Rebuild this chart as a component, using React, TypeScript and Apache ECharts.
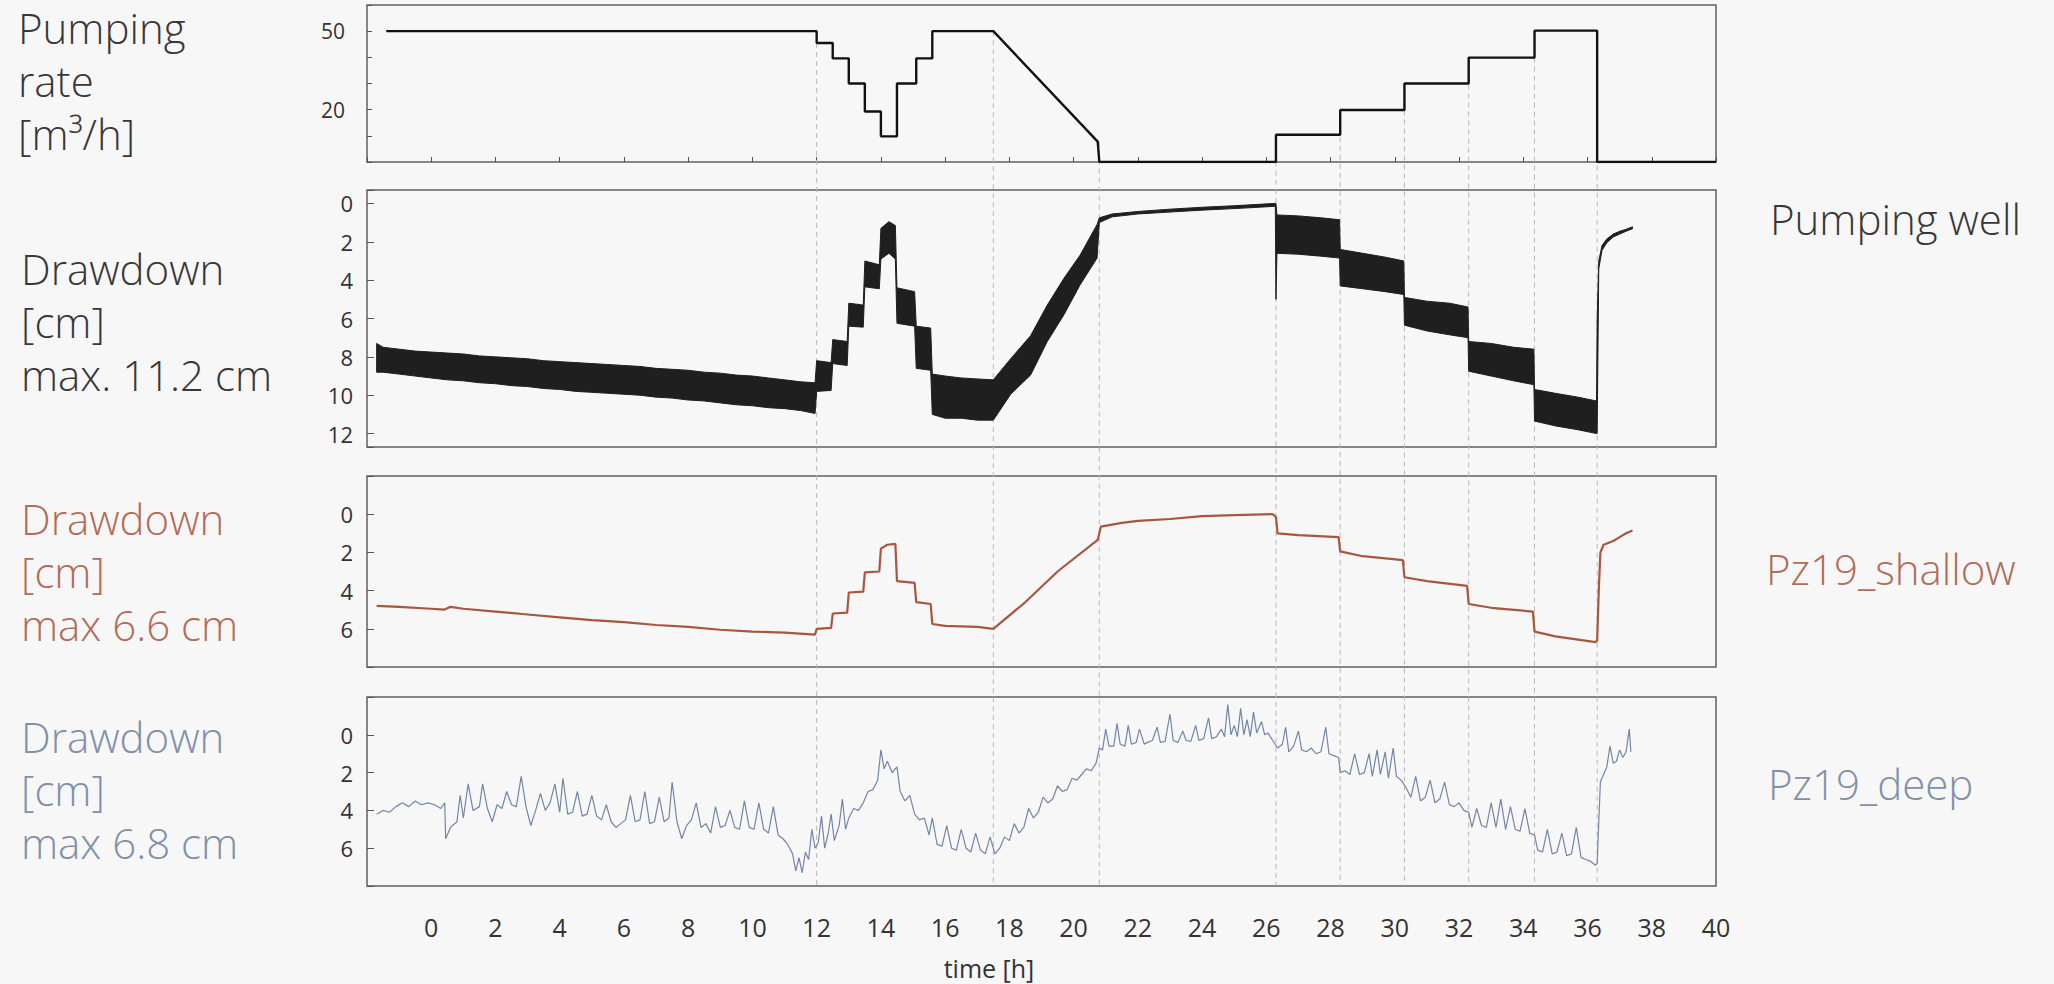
import React, { useEffect, useRef } from "react";
import * as echarts from "echarts";

// ---------- data ----------
const X_MIN = -2;
const X_MAX = 40;

// Pumping rate [m3/h]
const rateTime = [-1.4, 12.0, 12.0, 12.5, 12.5, 13.0, 13.0, 13.5, 13.5, 14.0, 14.0, 14.5, 14.5, 15.1, 15.1, 15.6, 15.6, 17.5, 20.75, 20.8, 26.3, 26.3, 28.3, 28.3, 30.3, 30.3, 32.3, 32.3, 34.35, 34.35, 36.3, 36.3, 40];
const rateValue = [50, 50, 45.5, 45.5, 39.6, 39.6, 30, 30, 19.3, 19.3, 9.8, 9.8, 30, 30, 39.6, 39.6, 50, 50, 7.8, 0, 0, 10.4, 10.4, 19.9, 19.9, 30, 30, 39.9, 39.9, 50.2, 50.2, 0, 0];

// Pumping well drawdown [cm] - envelope of the noisy record (upper / lower edge)
const wellTime = [-1.7, -1.5, -1.0, -0.5, 0.0, 0.5, 1.0, 1.5, 2.0, 2.5, 3.0, 3.5, 4.0, 4.5, 5.0, 5.5, 6.0, 6.5, 7.0, 7.5, 8.0, 8.5, 9.0, 9.5, 10.0, 10.5, 11.0, 11.5, 11.95, 12.0, 12.45, 12.5, 12.95, 13.0, 13.45, 13.5, 13.95, 14.0, 14.25, 14.45, 14.5, 15.05, 15.1, 15.55, 15.6, 16.0, 16.5, 17.0, 17.5, 18.04, 18.66, 19.18, 19.7, 20.2, 20.73, 20.8, 21.2, 22.0, 23.0, 24.0, 25.0, 26.28, 26.3, 26.33, 27.0, 27.7, 28.28, 28.3, 29.0, 29.7, 30.28, 30.3, 31.0, 31.7, 32.28, 32.3, 33.0, 33.7, 34.33, 34.35, 35.0, 35.7, 36.28, 36.3, 36.35, 36.45, 36.6, 36.8, 37.0, 37.2, 37.4];
const wellTop = [7.3, 7.5, 7.6, 7.7, 7.75, 7.8, 7.85, 7.95, 8.0, 8.05, 8.1, 8.2, 8.25, 8.3, 8.35, 8.4, 8.45, 8.5, 8.6, 8.65, 8.7, 8.8, 8.85, 8.95, 9.0, 9.1, 9.2, 9.3, 9.35, 8.2, 8.3, 7.1, 7.2, 5.2, 5.3, 3.0, 3.2, 1.3, 0.95, 1.15, 4.4, 4.6, 6.4, 6.5, 8.9, 9.0, 9.1, 9.15, 9.2, 8.1, 6.9, 5.3, 3.9, 2.7, 1.1, 0.75, 0.55, 0.42, 0.3, 0.2, 0.12, 0.0, 0.0, 0.6, 0.65, 0.75, 0.85, 2.4, 2.6, 2.8, 3.0, 4.9, 5.1, 5.2, 5.4, 7.2, 7.3, 7.5, 7.6, 9.7, 9.9, 10.1, 10.3, 6.0, 3.0, 2.2, 1.85, 1.6, 1.45, 1.35, 1.22];
const wellBottom = [8.8, 8.8, 8.9, 9.0, 9.1, 9.2, 9.25, 9.35, 9.4, 9.5, 9.55, 9.65, 9.7, 9.8, 9.85, 9.9, 9.95, 10.0, 10.1, 10.15, 10.25, 10.3, 10.4, 10.5, 10.55, 10.65, 10.7, 10.8, 10.95, 9.8, 9.75, 8.35, 8.45, 6.4, 6.45, 4.35, 4.45, 2.9, 2.6, 2.9, 6.25, 6.4, 8.6, 8.7, 11.0, 11.2, 11.2, 11.3, 11.3, 9.95, 8.95, 7.2, 5.8, 4.25, 2.85, 1.0, 0.7, 0.55, 0.45, 0.35, 0.27, 0.15, 5.0, 2.6, 2.65, 2.75, 2.85, 4.3, 4.45, 4.6, 4.75, 6.35, 6.65, 6.85, 7.0, 8.75, 9.0, 9.25, 9.45, 11.35, 11.6, 11.8, 12.0, 12.0, 3.4, 2.45, 2.05, 1.75, 1.6, 1.45, 1.32];

// Pz19_shallow drawdown [cm]
const shallowTime = [-1.7, -1.0, 0.0, 0.4, 0.6, 1.0, 2.0, 3.0, 4.0, 5.0, 6.0, 7.0, 8.0, 9.0, 10.0, 11.0, 11.95, 12.0, 12.45, 12.5, 12.95, 13.0, 13.45, 13.5, 13.95, 14.0, 14.2, 14.45, 14.5, 15.05, 15.1, 15.55, 15.6, 16.0, 17.0, 17.5, 18.5, 19.5, 20.75, 20.85, 21.5, 22.0, 23.0, 24.0, 25.0, 26.2, 26.3, 26.35, 27.0, 28.25, 28.3, 29.0, 30.25, 30.3, 31.0, 32.25, 32.3, 33.0, 34.3, 34.35, 35.0, 36.25, 36.3, 36.35, 36.4, 36.5, 36.8, 37.0, 37.2, 37.4];
const shallowValue = [4.8, 4.85, 4.95, 5.0, 4.85, 4.95, 5.1, 5.25, 5.4, 5.55, 5.65, 5.8, 5.9, 6.05, 6.15, 6.2, 6.3, 6.0, 5.95, 5.2, 5.15, 4.1, 4.05, 3.05, 3.0, 1.8, 1.6, 1.55, 3.5, 3.6, 4.6, 4.7, 5.75, 5.85, 5.9, 6.0, 4.6, 3.0, 1.35, 0.65, 0.45, 0.35, 0.25, 0.1, 0.05, 0.0, 0.15, 1.0, 1.1, 1.2, 1.95, 2.2, 2.4, 3.3, 3.5, 3.75, 4.7, 4.9, 5.1, 6.15, 6.4, 6.7, 6.6, 4.0, 2.0, 1.6, 1.4, 1.2, 1.0, 0.85];

// Pz19_deep drawdown [cm]
const deepTime = [-1.7, -1.5, -1.3, -1.1, -0.9, -0.7, -0.5, -0.3, -0.1, 0.1, 0.3, 0.42, 0.45, 0.6, 0.8, 0.9, 1.0, 1.15, 1.3, 1.5, 1.6, 1.75, 1.9, 2.05, 2.2, 2.35, 2.5, 2.65, 2.8, 2.95, 3.1, 3.25, 3.4, 3.55, 3.7, 3.85, 4.0, 4.1, 4.25, 4.4, 4.55, 4.7, 4.85, 5.0, 5.15, 5.3, 5.45, 5.6, 5.75, 5.9, 6.05, 6.2, 6.35, 6.5, 6.65, 6.8, 6.95, 7.1, 7.25, 7.4, 7.5, 7.65, 7.8, 7.95, 8.1, 8.25, 8.4, 8.55, 8.7, 8.85, 9.0, 9.15, 9.3, 9.45, 9.6, 9.75, 9.9, 10.05, 10.2, 10.35, 10.5, 10.65, 10.8, 10.95, 11.1, 11.25, 11.35, 11.45, 11.55, 11.65, 11.75, 11.85, 11.95, 12.05, 12.15, 12.25, 12.35, 12.45, 12.55, 12.7, 12.8, 12.9, 13.0, 13.15, 13.3, 13.45, 13.6, 13.75, 13.9, 14.0, 14.1, 14.2, 14.35, 14.5, 14.6, 14.75, 14.9, 15.05, 15.2, 15.35, 15.5, 15.6, 15.75, 15.9, 16.05, 16.2, 16.35, 16.5, 16.65, 16.8, 16.95, 17.1, 17.25, 17.4, 17.55, 17.7, 17.85, 18.0, 18.15, 18.3, 18.45, 18.6, 18.75, 18.9, 19.05, 19.2, 19.35, 19.5, 19.65, 19.8, 19.95, 20.1, 20.25, 20.4, 20.55, 20.7, 20.8, 20.9, 21.0, 21.1, 21.25, 21.35, 21.45, 21.6, 21.7, 21.8, 21.95, 22.05, 22.2, 22.3, 22.45, 22.6, 22.7, 22.85, 23.0, 23.1, 23.25, 23.4, 23.5, 23.65, 23.8, 23.9, 24.05, 24.2, 24.3, 24.45, 24.6, 24.7, 24.8, 24.9, 25.0, 25.1, 25.2, 25.3, 25.4, 25.5, 25.6, 25.7, 25.85, 25.95, 26.05, 26.2, 26.35, 26.5, 26.6, 26.7, 26.85, 27.0, 27.1, 27.25, 27.4, 27.55, 27.7, 27.85, 27.95, 28.1, 28.25, 28.3, 28.45, 28.6, 28.75, 28.9, 29.05, 29.2, 29.3, 29.45, 29.55, 29.7, 29.8, 29.95, 30.05, 30.2, 30.35, 30.5, 30.65, 30.8, 30.95, 31.1, 31.25, 31.4, 31.55, 31.7, 31.85, 32.0, 32.15, 32.3, 32.4, 32.55, 32.7, 32.85, 33.0, 33.15, 33.3, 33.45, 33.6, 33.75, 33.9, 34.05, 34.2, 34.35, 34.45, 34.6, 34.75, 34.9, 35.05, 35.2, 35.35, 35.5, 35.65, 35.8, 35.95, 36.1, 36.25, 36.3, 36.4, 36.5, 36.6, 36.7, 36.8, 36.9, 37.0, 37.1, 37.2, 37.3, 37.35];
const deepValue = [4.2, 4.0, 4.1, 3.8, 3.6, 3.8, 3.5, 3.7, 3.6, 3.7, 3.9, 3.6, 5.5, 4.9, 4.6, 3.2, 4.4, 2.6, 4.0, 3.8, 2.6, 3.9, 4.6, 3.7, 3.9, 3.0, 3.7, 3.8, 2.2, 3.8, 4.8, 4.0, 3.1, 4.0, 3.6, 2.6, 4.1, 2.3, 4.2, 4.1, 3.0, 4.3, 4.2, 3.2, 4.3, 4.5, 3.7, 4.6, 4.9, 4.7, 4.5, 3.2, 4.6, 4.5, 3.0, 4.7, 4.6, 3.3, 4.6, 4.4, 2.5, 4.6, 5.5, 4.8, 4.5, 3.6, 4.9, 4.7, 5.2, 3.8, 4.9, 4.8, 4.0, 4.9, 5.0, 3.5, 4.9, 5.0, 3.6, 5.0, 5.2, 3.8, 5.3, 5.5, 5.8, 6.3, 7.2, 6.5, 7.3, 6.2, 6.6, 5.0, 6.0, 5.7, 4.3, 6.0, 5.3, 4.2, 5.6, 4.8, 3.4, 5.0, 4.4, 3.9, 4.0, 3.6, 3.0, 2.9, 2.4, 0.8, 1.8, 1.4, 2.0, 1.7, 3.0, 3.5, 3.2, 4.2, 4.5, 4.4, 5.3, 4.4, 5.8, 5.9, 4.8, 6.0, 6.1, 5.0, 6.0, 6.2, 5.2, 6.1, 6.3, 5.4, 6.3, 6.0, 5.4, 5.6, 4.7, 5.2, 4.9, 3.9, 4.4, 4.1, 3.3, 3.6, 3.4, 2.7, 3.0, 2.9, 2.3, 2.4, 2.1, 1.8, 1.9, 1.5, 0.7, 0.8, -0.3, 0.6, 0.6, -0.6, 0.5, 0.6, -0.5, 0.5, 0.4, -0.3, 0.5, 0.4, 0.3, -0.4, 0.4, 0.35, -1.1, 0.3, 0.4, -0.2, 0.3, 0.35, -0.5, 0.3, 0.2, -0.9, 0.2, 0.1, -0.3, 0.1, -1.6, 0.0, -0.5, 0.1, -1.4, 0.0, -0.8, 0.1, -1.2, -0.1, -0.7, 0.0, -0.1, 0.3, 0.7, 0.5, -0.4, 0.9, 0.6, -0.2, 0.8, 0.9, 0.7, 1.0, 0.9, -0.4, 1.0, 1.1, 1.2, 2.0, 1.9, 2.1, 1.0, 2.1, 2.0, 1.0, 2.2, 0.8, 2.1, 0.9, 2.3, 0.7, 2.2, 2.4, 2.8, 3.3, 2.2, 3.5, 3.3, 2.4, 3.6, 3.4, 2.5, 3.7, 3.8, 3.6, 4.0, 4.1, 4.9, 3.9, 4.8, 4.9, 3.6, 4.9, 3.4, 5.0, 3.8, 5.0, 5.1, 3.9, 5.2, 5.3, 6.1, 6.2, 5.0, 6.3, 6.2, 5.2, 6.4, 6.3, 4.9, 6.5, 6.6, 6.7, 6.9, 6.8, 2.5, 2.1, 1.7, 0.6, 1.5, 1.4, 0.8, 1.2, 0.9, -0.3, 0.9];

// Changes of pumping rate (dashed guide lines): time and rate at the step
const eventTime = [12.0, 17.5, 20.8, 26.3, 28.3, 30.3, 32.3, 34.35, 36.3];
const eventRate = [45.5, 50, 7.8, 10.4, 19.9, 30, 39.9, 50.2, 50.2];

// Axis ranges / labelled ticks
const rateRange = [0, 60];
const rateLabels = [20, 50];
const wellRange = [-0.7, 12.7];
const pzRange = [-2, 8];

// Panel titles
const leftTitles = ["Pumping\nrate\n[m³/h]", "Drawdown\n[cm]\nmax. 11.2 cm", "Drawdown\n[cm]\nmax 6.6 cm", "Drawdown\n[cm]\nmax 6.8 cm"];
const rightTitles = ["Pumping well", "Pz19_shallow", "Pz19_deep"];
const xAxisTitle = "time [h]";

// ---------- styles ----------
const FONT = '"Open Sans", "Noto Sans", sans-serif';
const DARK = "#383838";
const BROWN_TEXT = "#b36c58";
const BROWN_LINE = "#a9563f";
const BLUE_TEXT = "#8090aa";
const BLUE_LINE = "#7386a6";
const BG = "#f7f7f7";

const GRID_LEFT = 367;
const GRID_WIDTH = 1349;

export default function App() {
  const ref = useRef<HTMLDivElement>(null);

  useEffect(() => {
    if (!ref.current) return;
    const chart = echarts.init(ref.current, null, { renderer: "svg" });

    const grids = [
      { top: 5, height: 157 },
      { top: 190, height: 257 },
      { top: 476, height: 191 },
      { top: 697, height: 189 },
    ].map((g) => ({
      left: GRID_LEFT,
      width: GRID_WIDTH,
      top: g.top,
      height: g.height,
      show: true,
      borderColor: "#606060",
      borderWidth: 1.5,
      backgroundColor: "transparent",
    }));

    const xAxes = [0, 1, 2, 3].map((i) => ({
      type: "value",
      gridIndex: i,
      min: X_MIN,
      max: X_MAX,
      interval: 2,
      axisLine: { show: false, onZero: false },
      splitLine: { show: false },
      axisTick:
        i === 0
          ? { show: true, inside: true, length: 5, lineStyle: { color: "#555", width: 1 } }
          : { show: false },
      axisLabel:
        i === 3
          ? {
              show: true,
              fontSize: 25,
              fontFamily: FONT,
              color: "#333",
              margin: 28,
              formatter: (v: number) => (v >= 0 ? String(v) : ""),
            }
          : { show: false },
    }));

    const yTick = { show: true, inside: true, length: 7, lineStyle: { color: "#555", width: 1 } };
    const yLabel = (fs: number, margin: number, fmt: (v: number) => string) => ({
      show: true,
      fontSize: fs,
      fontFamily: FONT,
      color: "#333",
      margin,
      formatter: fmt,
    });

    const yAxes = [
      {
        type: "value",
        gridIndex: 0,
        min: rateRange[0],
        max: rateRange[1],
        interval: 10,
        axisLine: { show: false, onZero: false },
        splitLine: { show: false },
        axisTick: { ...yTick, length: 5 },
        axisLabel: yLabel(21, 22, (v: number) => (rateLabels.includes(v) ? String(v) : "")),
      },
      {
        type: "value",
        gridIndex: 1,
        min: wellRange[0],
        max: wellRange[1],
        splitNumber: 7,
        inverse: true,
        axisLine: { show: false, onZero: false },
        splitLine: { show: false },
        axisTick: yTick,
        axisLabel: yLabel(22, 14, (v: number) =>
          Number.isInteger(v) && v % 2 === 0 && v >= 0 && v <= 12 ? String(v) : ""
        ),
      },
      ...[2, 3].map((gi) => ({
        type: "value",
        gridIndex: gi,
        min: pzRange[0],
        max: pzRange[1],
        interval: 2,
        inverse: true,
        axisLine: { show: false, onZero: false },
        splitLine: { show: false },
        axisTick: yTick,
        axisLabel: yLabel(22, 14, (v: number) => (v >= 0 && v <= 6 ? String(v) : "")),
      })),
    ];

    // band of the noisy pumping-well record, drawn as one polygon through the axes' scales
    const renderWellBand = (_params: any, api: any) => {
      const upper = wellTime.map((t, i) => api.coord([t, wellTop[i]]));
      const lower = wellTime.map((t, i) => api.coord([t, wellBottom[i]])).reverse();
      return {
        type: "polygon",
        shape: { points: [...upper, ...lower] },
        style: { fill: "#1f1f1f", stroke: "#1f1f1f", lineWidth: 1, lineJoin: "round" },
      };
    };

    const series: any[] = [
      {
        name: "Pumping rate",
        type: "line",
        xAxisIndex: 0,
        yAxisIndex: 0,
        data: rateTime.map((t, i) => [t, rateValue[i]]),
        showSymbol: false,
        lineStyle: { color: "#111", width: 2.4 },
        z: 3,
      },
      {
        name: "Pumping well",
        type: "custom",
        xAxisIndex: 1,
        yAxisIndex: 1,
        data: [[wellTime[0], wellTop[0]]],
        renderItem: renderWellBand,
        clip: true,
        z: 3,
      },
      {
        name: "Pz19_shallow",
        type: "line",
        xAxisIndex: 2,
        yAxisIndex: 2,
        data: shallowTime.map((t, i) => [t, shallowValue[i]]),
        showSymbol: false,
        lineStyle: { color: BROWN_LINE, width: 2.2 },
        z: 3,
      },
      {
        name: "Pz19_deep",
        type: "line",
        xAxisIndex: 3,
        yAxisIndex: 3,
        data: deepTime.map((t, i) => [t, deepValue[i]]),
        showSymbol: false,
        lineStyle: { color: BLUE_LINE, width: 1.2 },
        z: 3,
      },
    ];

    chart.setOption({
      animation: false,
      backgroundColor: BG,
      grid: grids,
      xAxis: xAxes,
      yAxis: yAxes,
      series,
    });

    // Dashed guide lines from the rate step down to the bottom of the last panel
    const lines = eventTime.map((t, i) => {
      const p0 = chart.convertToPixel({ gridIndex: 0 }, [t, eventRate[i]]) as number[];
      const p1 = chart.convertToPixel({ gridIndex: 3 }, [t, pzRange[1]]) as number[];
      return {
        type: "line",
        silent: true,
        z: 1,
        shape: { x1: p0[0], y1: p0[1], x2: p1[0], y2: p1[1] },
        style: { stroke: "#b8b8b8", lineWidth: 1, lineDash: [5, 4] },
      };
    });

    const SIZE = 42;
    const LH = 53;
    // multi-line block whose first baseline is at `baseline`
    const block = (text: string, x: number, baseline: number, fill: string) => ({
      type: "text",
      x,
      y: baseline - LH / 2 - 0.39 * SIZE,
      silent: true,
      style: {
        text,
        fill,
        font: `300 ${SIZE}px ${FONT}`,
        lineHeight: LH,
        align: "left",
        verticalAlign: "top",
      },
    });

    const texts = [
      block(leftTitles[0], 18, 43.5, DARK),
      block(leftTitles[1], 21, 285, DARK),
      block(leftTitles[2], 21, 535, BROWN_TEXT),
      block(leftTitles[3], 21, 753, BLUE_TEXT),
      block(rightTitles[0], 1770, 235, DARK),
      block(rightTitles[1], 1766, 585, BROWN_TEXT),
      block(rightTitles[2], 1768, 800, BLUE_TEXT),
      {
        type: "text",
        x: 989,
        y: 978 - 0.39 * 25,
        silent: true,
        style: {
          text: xAxisTitle,
          fill: "#333",
          font: `25px ${FONT}`,
          align: "center",
          verticalAlign: "middle",
        },
      },
    ];

    chart.setOption({ graphic: [...lines, ...texts] });

    return () => chart.dispose();
  }, []);

  return (
    <div
      ref={ref}
      style={{ position: "fixed", left: 0, top: 0, width: 2054, height: 984, background: BG }}
    />
  );
}
